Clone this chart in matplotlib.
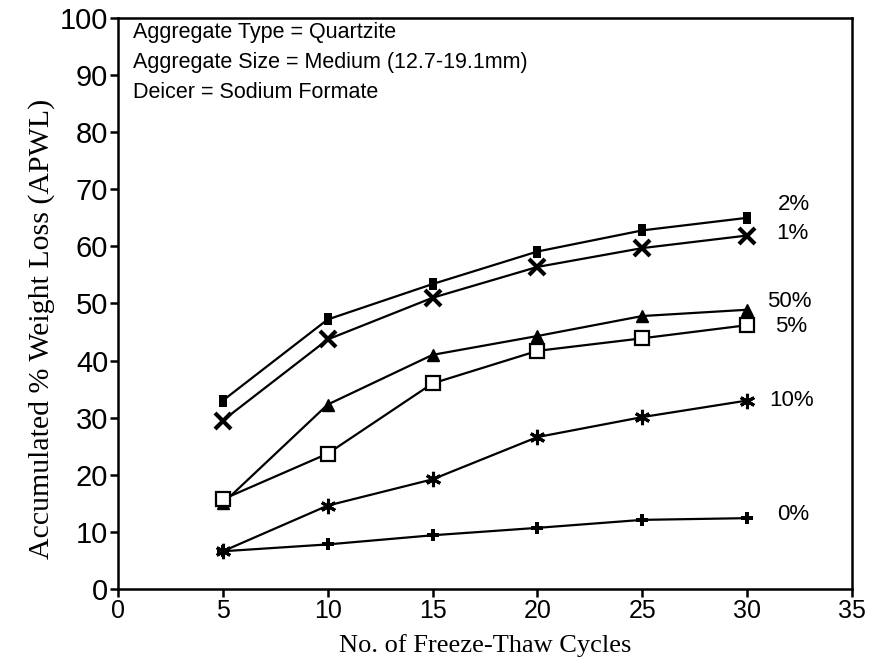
import numpy as np
import matplotlib.pyplot as plt

cycles = [5, 10, 15, 20, 25, 30]

# accumulated weight loss per deicer concentration
loss_2 = [33.0, 47.2, 53.4, 59.1, 62.8, 65.0]
loss_1 = [29.5, 43.7, 51.0, 56.4, 59.7, 61.9]
loss_50 = [15.0, 32.3, 41.0, 44.3, 47.8, 48.9]
loss_5 = [15.7, 23.7, 36.0, 41.7, 43.9, 46.2]
loss_10 = [6.6, 14.6, 19.2, 26.6, 30.1, 33.0]
loss_0 = [6.6, 7.8, 9.4, 10.7, 12.1, 12.4]

series_labels = ['2%', '1%', '50%', '5%', '10%', '0%']
label_pos = [(31.45, 67.3), (31.4, 62.3), (30.95, 50.4), (31.35, 45.9), (31.05, 33.0), (31.45, 13.0)]

info_lines = ['Aggregate Type = Quartzite',
              'Aggregate Size = Medium (12.7-19.1mm)',
              'Deicer = Sodium Formate']

sans = 'Liberation Sans'
serif = 'Liberation Serif'

fig = plt.figure(figsize=(8.79, 6.59), dpi=100)
ax_left, ax_width = 0.1342, 0.8351
ax = fig.add_axes([ax_left, 0.1063, ax_width, 0.8664])

# tall narrow block used for the 2% series
bar_marker = [(-0.3, -0.5), (0.3, -0.5), (0.3, 0.5), (-0.3, 0.5), (-0.3, -0.5)]

lw = 1.6
ax.plot(cycles, loss_2, color='black', lw=lw, marker=bar_marker, ms=9, markeredgewidth=0)
ax.plot(cycles, loss_1, color='black', lw=lw, marker='x', ms=11, markeredgewidth=3)
ax.plot(cycles, loss_50, color='black', lw=lw, marker='^', ms=9)
ax.plot(cycles, loss_5, color='black', lw=lw, marker='s', ms=10,
        markerfacecolor='white', markeredgewidth=1.6)
ax.plot(cycles, loss_10, color='black', lw=lw, marker=(6, 2, 0), ms=11, markeredgewidth=2.2)
ax.plot(cycles, loss_0, color='black', lw=lw, marker='P', ms=9, markeredgewidth=0)

for lab, (lx, ly) in zip(series_labels, label_pos):
    ax.text(lx, ly, lab, fontsize=16, family=sans, va='center', ha='left')

for i, line in enumerate(info_lines):
    ax.text(0.02, 0.965 - i * 0.053, line, transform=ax.transAxes,
            fontsize=15.5, family=sans, va='baseline', ha='left')

ax.set_xlim(0, 35)
ax.set_ylim(0, 100)
ax.set_xticks(np.arange(0, 36, 5))
ax.set_yticks(np.arange(0, 101, 10))
for s in ax.spines.values():
    s.set_linewidth(1.8)
ax.tick_params(direction='out', length=6, width=1.8, labelsize=21, pad=1)
ax.tick_params(axis='x', labelsize=18, pad=1)
for t in ax.get_xticklabels() + ax.get_yticklabels():
    t.set_family(sans)

ax.set_xlabel('No. of Freeze-Thaw Cycles', family=serif, fontsize=19)
ax.set_ylabel('Accumulated % Weight Loss (APWL)', family=serif, fontsize=21.5)
# x label sits on the bottom edge of the figure, centred under the axes
ax.xaxis.label.set_va('bottom')
ax.xaxis.set_label_coords(ax_left + ax_width / 2, 0.003, transform=fig.transFigure)
ax.yaxis.set_label_coords(-0.086, 0.455)

fig.savefig('out.png', dpi=100)
